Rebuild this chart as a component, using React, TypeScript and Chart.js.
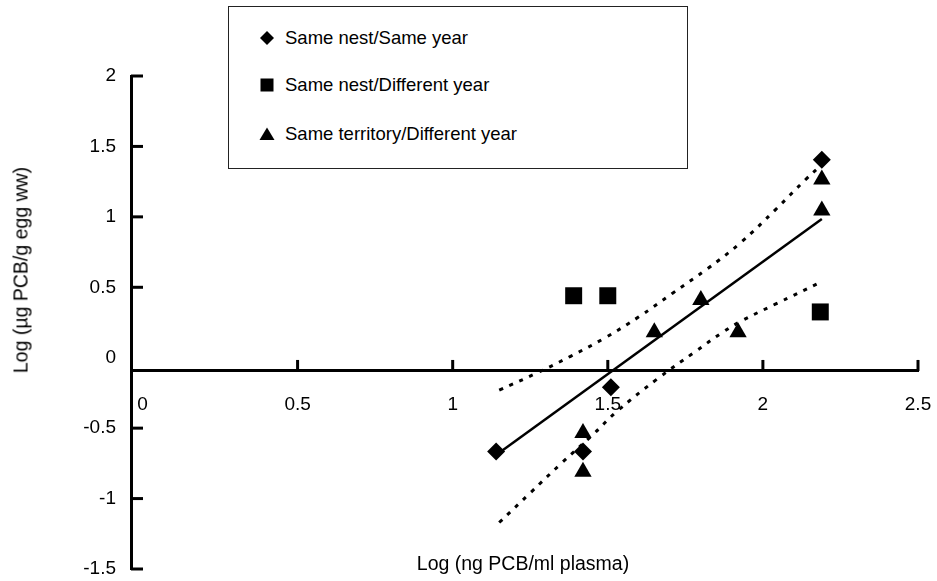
import React, { useEffect, useRef } from "react";
import { Chart, registerables } from "chart.js";

Chart.register(...registerables);

// Data
const sameNestSameYearX = [1.14, 1.42, 1.51, 2.19];
const sameNestSameYearY = [-0.665, -0.665, -0.21, 1.405];

const sameNestDiffYearX = [1.39, 1.5, 2.185];
const sameNestDiffYearY = [0.44, 0.44, 0.325];

const sameTerritoryX = [1.42, 1.42, 1.65, 1.8, 1.92, 2.19, 2.19];
const sameTerritoryY = [-0.535, -0.81, 0.18, 0.41, 0.18, 1.045, 1.265];

const fitX = [1.14, 2.19];
const fitY = [-0.69, 0.985];

const upperX = [1.15, 1.27, 1.38, 1.49, 1.6, 1.71, 1.82, 1.93, 2.04, 2.14, 2.18];
const upperY = [-0.23, -0.11, 0.01, 0.14, 0.29, 0.46, 0.63, 0.82, 1.05, 1.27, 1.35];

const lowerX = [1.15, 1.25, 1.35, 1.45, 1.53, 1.66, 1.78, 1.87, 1.93, 2.04, 2.19];
const lowerY = [-1.17, -0.96, -0.75, -0.55, -0.38, -0.15, 0.04, 0.18, 0.26, 0.38, 0.54];

const legendLabels = [
  "Same nest/Same year",
  "Same nest/Different year",
  "Same territory/Different year",
];
const xTitle = "Log (ng PCB/ml plasma)";
const yTitle = "Log (\u00b5g PCB/g egg ww)";

const xMin = -0.037;
const xMax = 2.5;
const yMin = -1.5;
const yMax = 2;
const xAxisCrossY = -0.094;

const pts = (xs: number[], ys: number[]) => xs.map((x, i) => ({ x, y: ys[i] }));

const FONT = "'Liberation Sans', Arial, sans-serif";

// Inward tick marks drawn from the chart's own scales
const inwardTicks = {
  id: "inwardTicks",
  afterDraw(chart: any) {
    const { ctx, chartArea, scales } = chart;
    const xs = scales.x;
    const ys = scales.y;
    ctx.save();
    ctx.strokeStyle = "#000";
    ctx.lineWidth = 3;
    ctx.lineCap = "butt";
    const axisY = ys.getPixelForValue(xAxisCrossY);
    xs.ticks.forEach((t: any) => {
      if (Math.abs(t.value) < 1e-9) return;
      const px = xs.getPixelForValue(t.value);
      ctx.beginPath();
      ctx.moveTo(px, axisY);
      ctx.lineTo(px, axisY - 11);
      ctx.stroke();
    });
    ys.ticks.forEach((t: any) => {
      if (Math.abs(t.value) < 1e-9) return;
      const py = ys.getPixelForValue(t.value);
      ctx.beginPath();
      ctx.moveTo(chartArea.left, py);
      ctx.lineTo(chartArea.left + 12, py);
      ctx.stroke();
    });
    ctx.restore();
  },
};

export default function App() {
  const ref = useRef<HTMLCanvasElement | null>(null);

  useEffect(() => {
    if (!ref.current) return;
    const fmt = (v: any) => String(Number(v));
    const chart = new Chart(ref.current, {
      type: "scatter",
      plugins: [inwardTicks],
      data: {
        datasets: [
          {
            label: legendLabels[0],
            data: pts(sameNestSameYearX, sameNestSameYearY),
            pointStyle: "rectRot",
            pointRadius: 9,
            backgroundColor: "#000",
            borderColor: "#000",
            borderWidth: 0,
            order: 0,
          },
          {
            label: legendLabels[1],
            data: pts(sameNestDiffYearX, sameNestDiffYearY),
            pointStyle: "rect",
            pointRadius: 12,
            backgroundColor: "#000",
            borderColor: "#000",
            borderWidth: 0,
            order: 0,
          },
          {
            label: legendLabels[2],
            data: pts(sameTerritoryX, sameTerritoryY),
            pointStyle: "triangle",
            pointRadius: 10,
            backgroundColor: "#000",
            borderColor: "#000",
            borderWidth: 0,
            order: 0,
          },
          {
            label: "fit",
            data: pts(fitX, fitY),
            showLine: true,
            pointRadius: 0,
            borderColor: "#000",
            borderWidth: 2.5,
            order: 1,
          },
          {
            label: "upper",
            data: pts(upperX, upperY),
            showLine: true,
            pointRadius: 0,
            borderColor: "#000",
            borderWidth: 3,
            borderDash: [4, 7],
            tension: 0.4,
            order: 1,
          },
          {
            label: "lower",
            data: pts(lowerX, lowerY),
            showLine: true,
            pointRadius: 0,
            borderColor: "#000",
            borderWidth: 3,
            borderDash: [4, 7],
            tension: 0.4,
            order: 1,
          },
        ],
      },
      options: {
        animation: false,
        responsive: false,
        devicePixelRatio: 1,
        layout: { padding: { left: 0, top: 76, right: 19, bottom: 6 } },
        plugins: {
          legend: { display: false },
          tooltip: { enabled: false },
        },
        scales: {
          x: {
            type: "linear",
            min: xMin,
            max: xMax,
            position: { y: xAxisCrossY } as any,
            ticks: {
              stepSize: 0.5,
              includeBounds: false,
              color: "#000",
              padding: 22,
              font: { family: FONT, size: 19 },
              maxRotation: 0,
              autoSkip: false,
              callback: fmt,
            },
            grid: {
              drawOnChartArea: false,
              drawTicks: false,
            },
            border: { display: true, color: "#000", width: 3 },
            afterFit: (s: any) => {
              s.paddingLeft = 0;
              s.paddingRight = 0;
            },
          },
          y: {
            type: "linear",
            min: yMin,
            max: yMax,
            position: "left",
            ticks: {
              stepSize: 0.5,
              color: "#000",
              padding: 15,
              font: { family: FONT, size: 19 },
              callback: fmt,
            },
            grid: {
              drawOnChartArea: false,
              drawTicks: false,
            },
            border: { display: true, color: "#000", width: 3 },
            afterFit: (s: any) => {
              s.width = 131;
              s.paddingTop = 0;
              s.paddingBottom = 0;
            },
          },
        },
      },
    });
    return () => chart.destroy();
  }, []);

  const legendItem = (i: number, top: number) => {
    let marker: React.ReactNode = null;
    if (i === 0)
      marker = (
        <svg width="16" height="16" viewBox="0 0 16 16">
          <polygon points="8,1 15,8 8,15 1,8" fill="#000" />
        </svg>
      );
    else if (i === 1)
      marker = (
        <svg width="16" height="16" viewBox="0 0 16 16">
          <rect x="1.5" y="1.5" width="13" height="13" fill="#000" />
        </svg>
      );
    else
      marker = (
        <svg width="16" height="16" viewBox="0 0 16 16">
          <polygon points="8,1.5 15.5,14 0.5,14" fill="#000" />
        </svg>
      );
    return (
      <div
        key={i}
        style={{
          position: "absolute",
          left: 30,
          top: top,
          height: 22,
          display: "flex",
          alignItems: "center",
          whiteSpace: "nowrap",
        }}
      >
        <div style={{ width: 16, height: 16, marginRight: 10 }}>{marker}</div>
        <span style={{ fontFamily: FONT, fontSize: 18.5, color: "#000" }}>
          {legendLabels[i]}
        </span>
      </div>
    );
  };

  return (
    <div
      style={{
        position: "absolute",
        left: 0,
        top: 0,
        width: 937,
        height: 581,
        background: "#fff",
        overflow: "hidden",
      }}
    >
      <canvas ref={ref} width={937} height={581} style={{ display: "block" }} />
      <div
        style={{
          position: "absolute",
          left: 228,
          top: 6,
          width: 460,
          height: 163,
          boxSizing: "border-box",
          border: "1.5px solid #222",
          background: "#fff",
        }}
      >
        {legendItem(0, 20)}
        {legendItem(1, 67)}
        {legendItem(2, 116)}
      </div>
      <div
        style={{
          position: "absolute",
          left: 523,
          top: 563,
          transform: "translate(-50%, -50%)",
          fontFamily: FONT,
          fontSize: 19.5,
          color: "#000",
          whiteSpace: "nowrap",
        }}
      >
        {xTitle}
      </div>
      <div
        style={{
          position: "absolute",
          left: 21,
          top: 270,
          transform: "translate(-50%, -50%) rotate(-90deg)",
          fontFamily: FONT,
          fontSize: 19.5,
          color: "#000",
          whiteSpace: "nowrap",
        }}
      >
        {yTitle}
      </div>
    </div>
  );
}
